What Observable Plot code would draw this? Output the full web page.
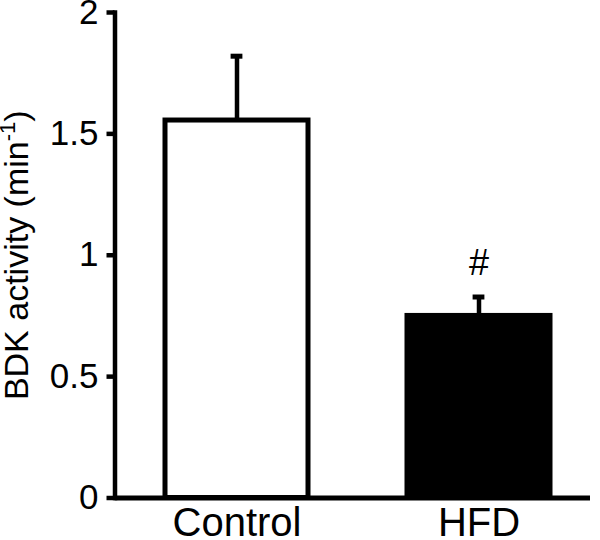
<!DOCTYPE html>
<html>
<head>
<meta charset="utf-8">
<script src="https://cdn.jsdelivr.net/npm/d3@7"></script>
<script src="https://cdn.jsdelivr.net/npm/@observablehq/plot@0.6"></script>
<style>
  html, body { margin: 0; padding: 0; background: white; }
</style>
</head>
<body>
<div id="chart"></div>
<script>
const groups = ["Control", "HFD"];
const means = [1.555, 0.75];
const sems = [0.265, 0.078];
const sigLabels = ["", "#"];
const yTicks = [0, 0.5, 1, 1.5, 2];
const yLabel = "BDK activity (min-1)";

const data = groups.map((g, i) => ({group: g, mean: means[i], sem: sems[i], top: means[i] + sems[i], sig: sigLabels[i]}));

const font = "'Liberation Sans', Arial, Helvetica, sans-serif";

const chart = Plot.plot({
  width: 600,
  height: 540,
  marginLeft: 114.5,
  marginRight: 10,
  marginTop: 12,
  marginBottom: 42.5,
  style: {fontFamily: font, fontSize: "34px", background: "white", color: "black", overflow: "visible"},
  x: {domain: groups, range: [114.5, 600], paddingInner: 0.409, paddingOuter: 0.2066, axis: null},
  y: {domain: [0, 2], axis: null},
  color: {domain: groups, range: ["white", "black"]},
  marks: [
    Plot.barY(data, {x: "group", y: "mean", fill: "group", stroke: "black", strokeWidth: 5}),
    Plot.ruleX(data, {x: "group", y1: "mean", y2: "top", stroke: "black", strokeWidth: 4.5}),
    Plot.tickY(data, {x: "group", y: "top", stroke: "black", strokeWidth: 5, insetLeft: 65.6, insetRight: 65.6}),
    Plot.text(data, {x: "group", y: "top", text: "sig", fontSize: 36, lineAnchor: "bottom", dy: -22, fill: "black"}),
    Plot.ruleY([0], {stroke: "black", strokeWidth: 5}),
    Plot.frame({anchor: "left", stroke: "black", strokeWidth: 4.5}),
    Plot.axisY({ticks: yTicks, tickFormat: d => String(d), tickSize: 8, tickPadding: 8.5, strokeWidth: 4.5, fontSize: 35, label: null}),
    Plot.axisX({tickSize: 0, tickPadding: 10, fontSize: 40, label: null}),
    Plot.text([yLabel], {frameAnchor: "left", rotate: -90, dx: -87.5, lineAnchor: "bottom", fontSize: 34, fill: "black", textAnchor: "middle"})
  ]
});

document.getElementById("chart").appendChild(chart);

// Render the "-1" as a superscript
d3.select(chart).selectAll("text").filter(function() { return this.textContent === yLabel; }).each(function() {
  const t = d3.select(this);
  t.text(null);
  t.append("tspan").text("BDK activity (min");
  t.append("tspan").attr("font-size", "22px").attr("dy", "-13").text("-1");
  t.append("tspan").attr("dy", "13").text(")");
});
</script>
</body>
</html>
